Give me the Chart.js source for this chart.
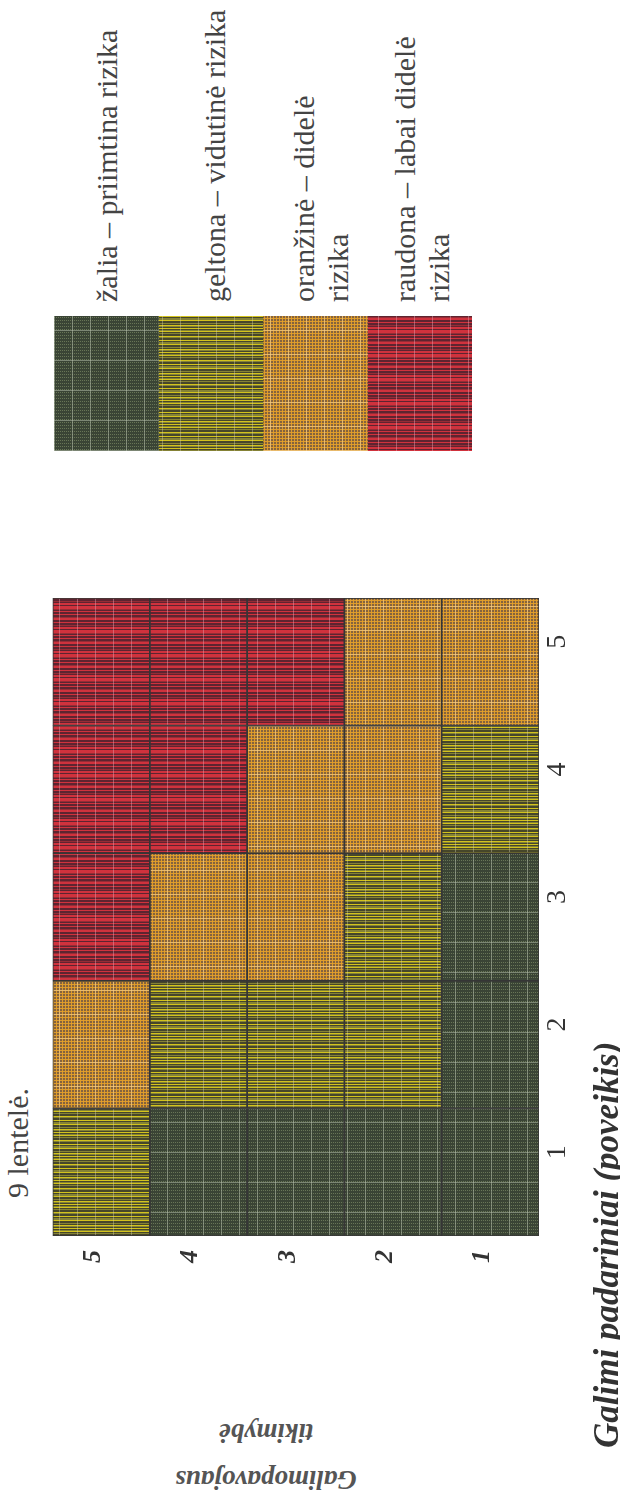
<!DOCTYPE html>
<html lang="lt">
<head>
<meta charset="utf-8">
<script src="https://cdn.jsdelivr.net/npm/chart.js@4.4.1/dist/chart.umd.min.js"></script>
<style>
html,body{margin:0;padding:0;background:#fff;overflow:hidden;}
body{width:620px;height:1503px;position:relative;}
#page{position:absolute;left:0;top:0;width:1503px;height:620px;transform-origin:0 0;transform:translate(0,1503px) rotate(-90deg);font-family:'Liberation Serif','Times New Roman',serif;color:#3c3c3c;background:#fff;}
.t{position:absolute;white-space:nowrap;}
#caption{left:305px;top:1px;font-size:30px;line-height:34px;color:#444;}
.leg{left:1201px;font-size:30px;line-height:34px;color:#444;}
#xtitle{left:55px;top:587px;font-size:35px;line-height:40px;font-weight:bold;font-style:italic;color:#333;}
#ytitle{left:-83.5px;top:219px;width:260px;height:94px;text-align:center;font-size:27px;line-height:47px;font-weight:bold;font-style:italic;color:#555;transform:rotate(-90deg);transform-origin:50% 50%;}
#matrixBox{position:absolute;left:200px;top:23px;width:715px;height:580px;}
#legendBox{position:absolute;left:1052px;top:54px;width:135px;height:418px;}
canvas{display:block;}
</style>
</head>
<body>
<div id="page">
  <div class="t" id="caption">9 lentelė.</div>
  <div id="matrixBox"><canvas id="matrix" width="715" height="580" style="width:715px;height:580px"></canvas></div>
  <div id="legendBox"><canvas id="legend" width="135" height="418" style="width:135px;height:418px"></canvas></div>
  <div class="t" id="xtitle">Galimi padariniai (poveikis)</div>
  <div class="t" id="ytitle">Galimopavojaus<br>tikimybė</div>
</div>
<script>
// ---- data ----
const likelihoodLabels = ['5', '4', '3', '2', '1'];          // Galimo pavojaus tikimybė (rows, top to bottom)
const impactLabels = ['1', '2', '3', '4', '5'];              // Galimi padariniai (columns)
// risk level of each cell: 0 žalia, 1 geltona, 2 oranžinė, 3 raudona
// one array per impact column, values for likelihood 5,4,3,2,1
const riskImpact1 = [1, 0, 0, 0, 0];
const riskImpact2 = [2, 1, 1, 1, 0];
const riskImpact3 = [3, 2, 2, 1, 0];
const riskImpact4 = [3, 3, 2, 2, 1];
const riskImpact5 = [3, 3, 3, 2, 2];
const riskByImpact = [riskImpact1, riskImpact2, riskImpact3, riskImpact4, riskImpact5];
const cellUnits = [1, 1, 1, 1, 1];                           // each cell spans one unit
const riskLegendLines = [
  ['žalia – priimtina rizika'],
  ['geltona – vidutinė rizika'],
  ['oranžinė – didelė', 'rizika'],
  ['raudona – labai didelė', 'rizika']
];

// ---- textures (style only) ----
function tile(w, h, draw) {
  const c = document.createElement('canvas');
  c.width = w; c.height = h;
  const g = c.getContext('2d');
  draw(g, w, h);
  return g.createPattern(c, 'repeat');
}
function stripes(g, h, str, cols) {
  for (let x = 0; x < str.length; x++) {
    g.fillStyle = cols[+str[x]];
    g.fillRect(x, 0, 1, h);
  }
}
const patterns = [
  tile(30, 18, (g, w, h) => {            // žalia
    g.fillStyle = '#3a4435'; g.fillRect(0, 0, w, h);
    g.fillStyle = '#687556';
    for (let x = 0; x < w; x++) for (let y = 0; y < h; y++)
      if (x % 3 === 1 && y % 2 === 0) g.fillRect(x, y, 1, 1);
    g.fillStyle = 'rgba(190,200,180,0.5)';
    g.fillRect(0, 0, 1, h); g.fillRect(0, 0, w, 1);
  }),
  tile(24, 18, (g, w, h) => {            // geltona
    stripes(g, h, '201021020012201002100201', ['#46462a', '#d3c31c', '#858236']);
    g.fillStyle = 'rgba(215,210,175,0.4)'; g.fillRect(0, 0, w, 1);
  }),
  tile(24, 18, (g, w, h) => {            // oranžinė
    g.fillStyle = '#85633e'; g.fillRect(0, 0, w, h);
    g.fillStyle = 'rgba(228,160,42,0.92)';
    for (let x = 0; x < w; x += 3) g.fillRect(x, 0, 1, h);
    for (let y = 0; y < h; y += 3) g.fillRect(0, y, w, 1);
    g.fillStyle = 'rgba(240,210,160,0.55)';
    g.fillRect(0, 0, 1, h); g.fillRect(0, 0, w, 1);
  }),
  tile(24, 18, (g, w, h) => {            // raudona
    stripes(g, h, '101102001001120010010211', ['#5e2430', '#d0323d', '#962c36']);
    g.fillStyle = 'rgba(230,165,180,0.45)'; g.fillRect(0, 0, w, 1);
  })
];

// ---- legend texts ----
const legendTops = [90, 198, 287, 388];
riskLegendLines.forEach((lines, i) => {
  const d = document.createElement('div');
  d.className = 't leg';
  d.style.top = legendTops[i] + 'px';
  lines.forEach((ln, k) => {
    if (k) d.appendChild(document.createElement('br'));
    d.appendChild(document.createTextNode(ln));
  });
  document.getElementById('page').appendChild(d);
});

// ---- risk matrix ----
const serif = "'Liberation Serif', 'Times New Roman', serif";
new Chart(document.getElementById('matrix'), {
  type: 'bar',
  data: {
    labels: likelihoodLabels,
    datasets: impactLabels.map((imp, i) => ({
      label: 'Poveikis ' + imp,
      data: cellUnits,
      backgroundColor: riskByImpact[i].map(l => patterns[l]),
      borderColor: '#363636',
      borderWidth: 1.2,
      borderSkipped: false,
      xAxisID: 'xv',
      yAxisID: 'y',
      stack: 'matrix',
      barPercentage: 1,
      categoryPercentage: 1
    }))
  },
  options: {
    indexAxis: 'y',
    responsive: false,
    animation: false,
    layout: { padding: { top: 0, right: 10, left: 0, bottom: 0 } },
    plugins: { legend: { display: false }, tooltip: { enabled: false } },
    scales: {
      y: {
        type: 'category', position: 'left', stacked: true,
        grid: { display: false, drawTicks: false }, border: { display: false },
        ticks: { font: { family: serif, size: 26, style: 'italic', weight: 'bold' }, color: '#333', padding: 14, labelOffset: -8 },
        afterFit(s) { s.width = 67; }
      },
      xv: { type: 'linear', stacked: true, min: 0, max: 5, display: false },
      x: {
        type: 'category', labels: impactLabels, offset: true, position: 'bottom',
        grid: { display: false, drawTicks: false }, border: { display: false },
        ticks: { font: { family: serif, size: 28 }, color: '#333', padding: 2, labelOffset: 20, maxRotation: 0, minRotation: 0 },
        afterFit(s) { s.height = 64; }
      }
    }
  }
});

// ---- legend swatches ----
new Chart(document.getElementById('legend'), {
  type: 'bar',
  data: {
    labels: [''],
    datasets: riskLegendLines.map((lines, i) => ({
      label: lines.join(' '),
      data: [cellUnits[i]],
      backgroundColor: patterns[i],
      borderWidth: 0,
      barPercentage: 1,
      categoryPercentage: 1
    }))
  },
  options: {
    responsive: false,
    animation: false,
    layout: { padding: 0 },
    plugins: { legend: { display: false }, tooltip: { enabled: false } },
    scales: {
      x: { stacked: true, display: false },
      y: { stacked: true, display: false, reverse: true, min: 0, max: 4 }
    }
  }
});
</script>
</body>
</html>
